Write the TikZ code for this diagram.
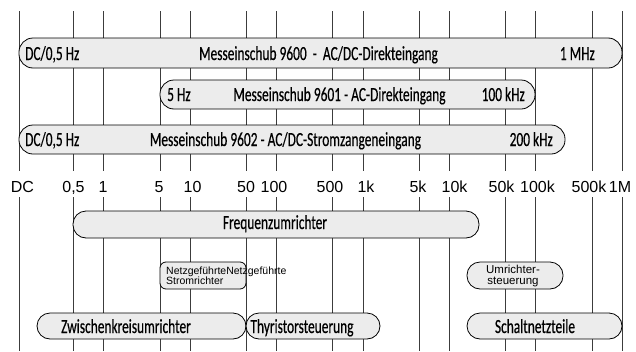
\documentclass[tikz,border=0pt]{standalone}
\usepackage{fontspec}
\setmainfont{Liberation Sans}
\newfontfamily\barfont[FakeStretch=0.67, FakeBold=0.4]{Carlito}
\definecolor{barfill}{HTML}{ECECEC}
\definecolor{gridgray}{HTML}{3C3C3C}

\begin{document}
\begin{tikzpicture}[x=1pt, y=-1pt,
	gridline/.style={draw=gridgray, line width=0.9pt},
	tick label/.style={font=\fontsize{16}{16}\selectfont, inner sep=0, anchor=base},
	bar/.style={draw, fill=barfill, line width=0.8pt, inner sep=0, rounded corners=14pt},
	bar text/.style={font=\barfont\fontsize{20}{20}\selectfont, inner sep=0},
	small text/.style={font=\fontsize{10.5}{10}\selectfont, inner sep=0}]
	
	\useasboundingbox (0,0) rectangle (636,351);
	
	% Frequency axis: grid lines and labels
	\foreach \x/\lx/\t [count=\i] in {19/22.5/DC, 73/73.5/{0,5}, 103/103/1, 160/159/5, 190/192.5/10,
		246/246/50, 276/274/100, 332/330/500, 363/366/1k, 419/418/5k, 449/454.5/10k,
		505/501.5/50k, 535/537.5/100k, 592/589/500k, 622/620/1M} {
		\coordinate (ta\i) at (\x,11);
		\coordinate (tb\i) at (\x,171);
		\coordinate (ba\i) at (\x,197);
		\coordinate (bb\i) at (\x,351);
		\draw[gridline] (ta\i) -- (tb\i);
		\draw[gridline] (ba\i) -- (bb\i);
		\node[tick label] (l\i) at (\lx,192) {\t};
	}
	
	% Measuring modules
	\node[bar, minimum width=603, minimum height=30] (m9600) at (320.5,53) {};
	\node[bar text, anchor=base west] (m9600l) at (25,60) {DC/0,5 Hz};
	\node[bar text, anchor=base] (m9600c) at (318.5,60) {Messeinschub 9600~~-~~AC/DC-Direkteingang};
	\node[bar text, anchor=base east] (m9600r) at (595,60) {1 MHz};
	
	\node[bar, minimum width=375, minimum height=29] (m9601) at (347.5,94.5) {};
	\node[bar text, anchor=base west] (m9601l) at (167,101) {5 Hz};
	\node[bar text, anchor=base] (m9601c) at (339.5,101) {Messeinschub 9601 - AC-Direkteingang};
	\node[bar text, anchor=base east] (m9601r) at (525,101) {100 kHz};
	
	\node[bar, minimum width=546, minimum height=29] (m9602) at (292,139.5) {};
	\node[bar text, anchor=base west] (m9602l) at (25,146) {DC/0,5 Hz};
	\node[bar text, anchor=base] (m9602c) at (285.5,146) {Messeinschub 9602 - AC/DC-Stromzangeneingang};
	\node[bar text, anchor=base east] (m9602r) at (553,146) {200 kHz};
	
	% Applications
	\node[bar, minimum width=406, minimum height=27, rounded corners=13pt] (fu) at (276,224.5) {};
	\node[bar text, anchor=base] (ful) at (275,229) {Frequenzumrichter};
	
	\node[bar, minimum width=86, minimum height=27, rounded corners=6pt] (nsr) at (203,275.5) {};
	\node[small text, anchor=base west, align=left] (nsrl) at (166,284) {NetzgeführteNetzgeführte\\Stromrichter};
	
	\node[bar, minimum width=96, minimum height=27, rounded corners=13pt] (us) at (515,275.5) {};
	\node[small text, font=\fontsize{11.5}{11}\selectfont, anchor=base, align=center] (usl) at (513,284) {Umrichter-\\steuerung};
	
	\node[bar, minimum width=209, minimum height=26, rounded corners=13pt] (zk) at (141.5,326) {};
	\node[bar text, anchor=base] (zkl) at (126,333) {Zwischenkreisumrichter};
	
	\node[bar, minimum width=134, minimum height=26, rounded corners=13pt] (ts) at (313,326) {};
	\node[bar text, anchor=base] (tsl) at (302,333) {Thyristorsteuerung};
	
	\node[bar, minimum width=155, minimum height=26, rounded corners=13pt] (sn) at (544.5,326) {};
	\node[bar text, anchor=base] (snl) at (535,333) {Schaltnetzteile};
\end{tikzpicture}
\end{document}
